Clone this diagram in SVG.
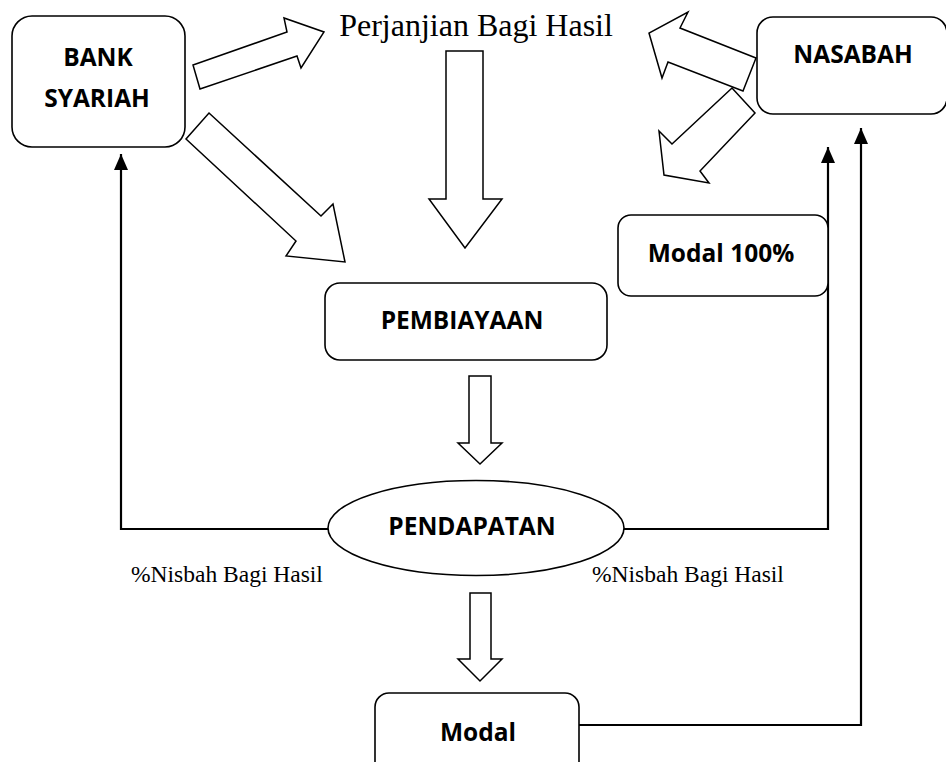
<svg xmlns="http://www.w3.org/2000/svg" width="946" height="762" viewBox="0 0 946 762">
<style>
.box{fill:#fff;stroke:#000;stroke-width:1.6}
.blk{fill:#fff;stroke:#000;stroke-width:1.5;stroke-linejoin:miter}
.lbl{font-family:"Open Sans","Liberation Sans",sans-serif;font-weight:700;font-size:24.5px;fill:#000;text-anchor:middle}
.ser{font-family:"Liberation Serif","Times New Roman",serif;fill:#000}
.con{fill:none;stroke:#000;stroke-width:2.2}
</style>
<defs>
<marker id="ah" markerUnits="userSpaceOnUse" markerWidth="16" markerHeight="14" refX="16" refY="7" orient="auto">
<path d="M0,0 L16,7 L0,14 z" fill="#000"/>
</marker>
</defs>
<rect width="946" height="762" fill="#fff"/>
<g id="connectors">
<path class="con" d="M330 529 H121 V154" marker-end="url(#ah)"/>
<path class="con" d="M622 529 H828 V147" marker-end="url(#ah)"/>
<path class="con" d="M579 725 H861 V128" marker-end="url(#ah)"/>
<polygon class="blk" points="200,89 193,65 287,32 284,18 324,32 301,68 297,56"/>
<polygon class="blk" points="209,113 321,216 333,204 345,262 286,256 296,241 186,139"/>
<polygon class="blk" points="446,51 483,51 483,199 502,199 465,248 429,199 446,199"/>
<polygon class="blk" points="756,58 680,28 688,12 649,33 662,78 668,62 743,91"/>
<polygon class="blk" points="732,88 755,113 700,171 709,183 664,175 659,131 672,144"/>
<polygon class="blk" points="469,376 491,376 491,443 502,443 480,464 458,443 469,443"/>
<polygon class="blk" points="470,593 491,593 491,659 502,659 480,681 458,659 470,659"/>
</g>
<g id="bank">
<rect class="box" x="12" y="16" width="173" height="131" rx="20"/>
<text class="lbl" x="98" y="66">BANK</text>
<text class="lbl" x="97" y="107">SYARIAH</text>
</g>
<g id="perjanjian">
<text class="ser" x="476" y="36" font-size="32" text-anchor="middle">Perjanjian Bagi Hasil</text>
</g>
<g id="nasabah">
<rect class="box" x="757" y="17" width="190" height="97" rx="16"/>
<text class="lbl" x="853" y="63">NASABAH</text>
</g>
<g id="modal100">
<rect class="box" x="618" y="215" width="210" height="81" rx="13"/>
<text class="lbl" x="721" y="262">Modal 100%</text>
</g>
<g id="pembiayaan">
<rect class="box" x="325" y="283" width="282" height="77" rx="15"/>
<text class="lbl" x="462" y="329">PEMBIAYAAN</text>
</g>
<g id="pendapatan">
<ellipse class="box" cx="476" cy="528" rx="148" ry="47.5"/>
<text class="lbl" x="472" y="535">PENDAPATAN</text>
</g>
<g id="nisbah-labels">
<text class="ser" x="131" y="582" font-size="23.5">%Nisbah Bagi Hasil</text>
<text class="ser" x="592" y="582" font-size="23.5">%Nisbah Bagi Hasil</text>
</g>
<g id="modal">
<rect class="box" x="375" y="693" width="204" height="90" rx="14"/>
<text class="lbl" x="478" y="741">Modal</text>
</g>
</svg>
